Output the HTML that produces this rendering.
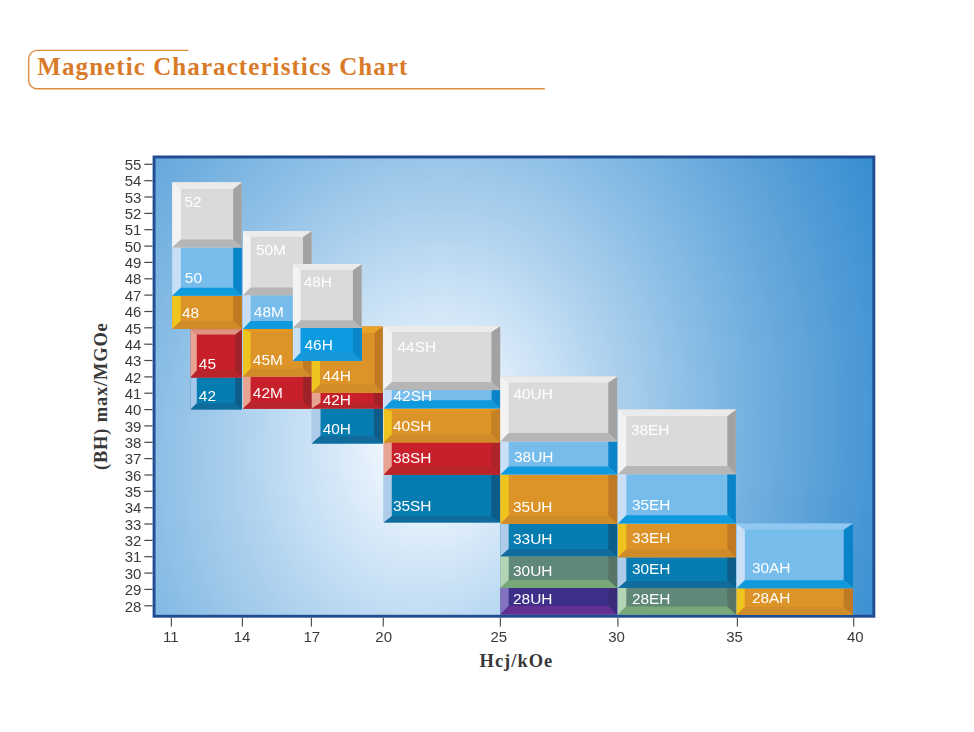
<!DOCTYPE html>
<html><head><meta charset="utf-8"><title>Magnetic Characteristics Chart</title>
<style>
html,body{margin:0;padding:0;background:#fff;}
body{width:974px;height:732px;overflow:hidden;position:relative;font-family:"Liberation Sans",sans-serif;}
svg{position:absolute;left:0;top:0;}
.t{font-family:"Liberation Serif",serif;font-weight:bold;}
</style></head><body>
<svg width="974" height="732" viewBox="0 0 974 732">
<defs>
<radialGradient id="bg" gradientUnits="userSpaceOnUse" cx="409.6" cy="455.6" r="531.5" fx="432.9" fy="433.6" gradientTransform="rotate(11.7 409.6 455.6) translate(0 455.6) scale(1 1.22) translate(0 -455.6)">
<stop offset="0.000" stop-color="#f8fcff"/>
<stop offset="0.091" stop-color="#edf6fe"/>
<stop offset="0.182" stop-color="#d6e8f8"/>
<stop offset="0.273" stop-color="#c0dcf3"/>
<stop offset="0.364" stop-color="#aacfed"/>
<stop offset="0.455" stop-color="#96c4e8"/>
<stop offset="0.545" stop-color="#83b9e3"/>
<stop offset="0.636" stop-color="#70aedf"/>
<stop offset="0.727" stop-color="#5fa4da"/>
<stop offset="0.818" stop-color="#4e9ad6"/>
<stop offset="0.909" stop-color="#3e91d2"/>
<stop offset="1.000" stop-color="#2f89cf"/>
</radialGradient>
</defs>
<!-- title -->
<path d="M188.4,50.4 H37 A8.5,8.5 0 0 0 28.6,58.9 V80.2 A8.5,8.5 0 0 0 37,88.7 H544.8" fill="none" stroke="#dd8c40" stroke-width="1.4"/>
<text class="t" x="37.3" y="74.6" font-size="25" letter-spacing="1.08" fill="#d87a28">Magnetic Characteristics Chart</text>
<!-- frame -->
<rect x="154.05" y="156.95" width="719.8" height="459.3" fill="url(#bg)" stroke="#204c92" stroke-width="2.9"/>
<g shape-rendering="geometricPrecision">
<rect x="190.7" y="377.5" width="51.1" height="31.9" fill="#067cb0"/><polygon points="190.7,377.5 196.8,377.5 196.8,403.2 190.7,409.4" fill="#a4c7ea"/><polygon points="241.8,377.5 235.2,377.5 235.2,403.2 241.8,409.4" fill="#0e5c88"/><polygon points="190.7,409.4 196.8,403.2 235.2,403.2 241.8,409.4" fill="#0f6c9c"/><rect x="190.7" y="329.3" width="51.1" height="48.2" fill="#c8202a"/><polygon points="190.7,329.3 196.8,334.4 196.8,370.3 190.7,377.5" fill="#e8a492"/><polygon points="241.8,329.3 235.2,334.4 235.2,370.3 241.8,377.5" fill="#a02229"/><polygon points="190.7,377.5 196.8,370.3 235.2,370.3 241.8,377.5" fill="#b82429"/><polygon points="190.7,329.3 196.8,334.4 235.2,334.4 241.8,329.3" fill="#df9482"/><rect x="172.2" y="295.8" width="69.6" height="33.1" fill="#dc9428"/><polygon points="172.2,295.8 180.8,295.8 180.8,321.0 172.2,328.9" fill="#f0c41e"/><polygon points="241.8,295.8 233.2,295.8 233.2,321.0 241.8,328.9" fill="#c07a24"/><polygon points="172.2,328.9 180.8,321.0 233.2,321.0 241.8,328.9" fill="#d08c28"/><rect x="172.2" y="246.5" width="69.6" height="49.2" fill="#76bdec"/><polygon points="172.2,246.5 180.8,246.5 180.8,287.7 172.2,295.7" fill="#c8dff6"/><polygon points="241.8,246.5 233.2,246.5 233.2,287.7 241.8,295.7" fill="#0a84c8"/><polygon points="172.2,295.7 180.8,287.7 233.2,287.7 241.8,295.7" fill="#0e9adc"/><rect x="172.2" y="182.3" width="69.6" height="65.2" fill="#dadada"/><polygon points="172.2,182.3 180.8,189.1 180.8,239.6 172.2,247.5" fill="#f3f3f3"/><polygon points="241.8,182.3 233.2,189.1 233.2,239.6 241.8,247.5" fill="#a2a2a2"/><polygon points="172.2,247.5 180.8,239.6 233.2,239.6 241.8,247.5" fill="#b6b6b6"/><polygon points="172.2,182.3 180.8,189.1 233.2,189.1 241.8,182.3" fill="#ebebeb"/><rect x="243.0" y="376.5" width="68.6" height="32.2" fill="#c8202a"/><polygon points="243.0,376.5 250.6,376.5 250.6,401.6 243.0,408.7" fill="#e8a492"/><polygon points="311.6,376.5 303.0,376.5 303.0,401.6 311.6,408.7" fill="#a02229"/><polygon points="243.0,408.7 250.6,401.6 303.0,401.6 311.6,408.7" fill="#b82429"/><rect x="243.0" y="328.9" width="68.6" height="47.6" fill="#dc9428"/><polygon points="243.0,328.9 250.6,331.8 250.6,368.7 243.0,376.5" fill="#f0c41e"/><polygon points="311.6,328.9 303.0,331.8 303.0,368.7 311.6,376.5" fill="#c07a24"/><polygon points="243.0,376.5 250.6,368.7 303.0,368.7 311.6,376.5" fill="#d08c28"/><polygon points="243.0,328.9 250.6,331.8 303.0,331.8 311.6,328.9" fill="#ec961e"/><rect x="243.0" y="294.0" width="68.6" height="34.9" fill="#76bdec"/><polygon points="243.0,294.0 250.6,294.0 250.6,321.0 243.0,328.9" fill="#c8dff6"/><polygon points="311.6,294.0 303.0,294.0 303.0,321.0 311.6,328.9" fill="#0a84c8"/><polygon points="243.0,328.9 250.6,321.0 303.0,321.0 311.6,328.9" fill="#0e9adc"/><rect x="243.0" y="231.0" width="68.6" height="64.3" fill="#dadada"/><polygon points="243.0,231.0 250.6,236.7 250.6,287.5 243.0,295.3" fill="#f3f3f3"/><polygon points="311.6,231.0 303.0,236.7 303.0,287.5 311.6,295.3" fill="#a2a2a2"/><polygon points="243.0,295.3 250.6,287.5 303.0,287.5 311.6,295.3" fill="#b6b6b6"/><polygon points="243.0,231.0 250.6,236.7 303.0,236.7 311.6,231.0" fill="#ebebeb"/><rect x="311.9" y="408.6" width="70.9" height="34.9" fill="#067cb0"/><polygon points="311.9,408.6 320.5,408.6 320.5,435.7 311.9,443.5" fill="#aecbe9"/><polygon points="382.8,408.6 373.9,408.6 373.9,435.7 382.8,443.5" fill="#0e5c88"/><polygon points="311.9,443.5 320.5,435.7 373.9,435.7 382.8,443.5" fill="#0f6c9c"/><rect x="311.9" y="392.6" width="70.9" height="16.0" fill="#c8202a"/><polygon points="311.9,392.6 320.5,392.6 320.5,402.9 311.9,408.6" fill="#e8a492"/><polygon points="382.8,392.6 373.9,392.6 373.9,402.9 382.8,408.6" fill="#a02229"/><polygon points="311.9,408.6 320.5,402.9 373.9,402.9 382.8,408.6" fill="#b82429"/><rect x="311.8" y="326.4" width="70.9" height="66.3" fill="#dc9428"/><polygon points="311.8,326.4 320.0,332.8 320.0,384.5 311.8,392.7" fill="#f0c41e"/><polygon points="382.7,326.4 374.5,332.8 374.5,384.5 382.7,392.7" fill="#c07a24"/><polygon points="311.8,392.7 320.0,384.5 374.5,384.5 382.7,392.7" fill="#d08c28"/><polygon points="311.8,326.4 320.0,332.8 374.5,332.8 382.7,326.4" fill="#e8a226"/><rect x="292.9" y="327.0" width="68.8" height="33.9" fill="#0c9ae0"/><polygon points="292.9,327.0 300.5,327.0 300.5,352.7 292.9,360.9" fill="#c8dff6"/><polygon points="361.7,327.0 352.9,327.0 352.9,352.7 361.7,360.9" fill="#0a86ca"/><polygon points="292.9,360.9 300.5,352.7 352.9,352.7 361.7,360.9" fill="#1898dc"/><rect x="292.9" y="264.0" width="68.8" height="64.0" fill="#dadada"/><polygon points="292.9,264.0 300.5,270.1 300.5,320.2 292.9,328.0" fill="#f3f3f3"/><polygon points="361.7,264.0 352.9,270.1 352.9,320.2 361.7,328.0" fill="#a2a2a2"/><polygon points="292.9,328.0 300.5,320.2 352.9,320.2 361.7,328.0" fill="#b6b6b6"/><polygon points="292.9,264.0 300.5,270.1 352.9,270.1 361.7,264.0" fill="#ebebeb"/><rect x="383.8" y="474.7" width="116.4" height="47.7" fill="#067cb0"/><polygon points="383.8,474.7 391.8,474.7 391.8,516.2 383.8,522.4" fill="#aecbe9"/><polygon points="500.2,474.7 491.3,474.7 491.3,516.2 500.2,522.4" fill="#0e5c88"/><polygon points="383.8,522.4 391.8,516.2 491.3,516.2 500.2,522.4" fill="#0f6c9c"/><rect x="383.8" y="441.9" width="116.4" height="32.8" fill="#c8202a"/><polygon points="383.8,441.9 391.8,441.9 391.8,466.5 383.8,474.7" fill="#e8a492"/><polygon points="500.2,441.9 491.3,441.9 491.3,466.5 500.2,474.7" fill="#ae2429"/><polygon points="383.8,474.7 391.8,466.5 491.3,466.5 500.2,474.7" fill="#b82429"/><rect x="383.8" y="408.6" width="116.4" height="33.8" fill="#dc9428"/><polygon points="383.8,408.6 391.8,411.0 391.8,434.5 383.8,442.4" fill="#f0c41e"/><polygon points="500.2,408.6 491.3,411.0 491.3,434.5 500.2,442.4" fill="#c68026"/><polygon points="383.8,442.4 391.8,434.5 491.3,434.5 500.2,442.4" fill="#d08c28"/><polygon points="383.8,408.6 391.8,411.0 491.3,411.0 500.2,408.6" fill="#ec961e"/><rect x="383.8" y="389.5" width="116.4" height="19.1" fill="#76bdec"/><polygon points="383.8,389.5 391.8,389.5 391.8,400.2 383.8,408.6" fill="#c8dff6"/><polygon points="500.2,389.5 491.6,389.5 491.6,400.2 500.2,408.6" fill="#0a84c8"/><polygon points="383.8,408.6 391.8,400.2 491.6,400.2 500.2,408.6" fill="#0e9adc"/><rect x="383.3" y="326.0" width="116.9" height="64.1" fill="#dadada"/><polygon points="383.3,326.0 391.9,332.0 391.9,382.0 383.3,390.1" fill="#f3f3f3"/><polygon points="500.2,326.0 491.4,332.0 491.4,382.0 500.2,390.1" fill="#a2a2a2"/><polygon points="383.3,390.1 391.9,382.0 491.4,382.0 500.2,390.1" fill="#b6b6b6"/><polygon points="383.3,326.0 391.9,332.0 491.4,332.0 500.2,326.0" fill="#ebebeb"/><rect x="500.5" y="588.0" width="116.7" height="26.6" fill="#3c3088"/><polygon points="500.5,588.0 508.7,588.0 508.7,606.0 500.5,614.6" fill="#8272c0"/><polygon points="617.2,588.0 608.3,588.0 608.3,606.0 617.2,614.6" fill="#3a2c78"/><polygon points="500.5,614.6 508.7,606.0 608.3,606.0 617.2,614.6" fill="#623092"/><rect x="500.5" y="556.2" width="116.7" height="31.8" fill="#608878"/><polygon points="500.5,556.2 508.7,556.2 508.7,579.9 500.5,588.0" fill="#b4d4b6"/><polygon points="617.2,556.2 608.3,556.2 608.3,579.9 617.2,588.0" fill="#587466"/><polygon points="500.5,588.0 508.7,579.9 608.3,579.9 617.2,588.0" fill="#78a87a"/><rect x="500.5" y="523.8" width="116.7" height="32.4" fill="#067cb0"/><polygon points="500.5,523.8 508.7,523.8 508.7,549.0 500.5,556.2" fill="#aecbe9"/><polygon points="617.2,523.8 608.3,523.8 608.3,549.0 617.2,556.2" fill="#0e5c88"/><polygon points="500.5,556.2 508.7,549.0 608.3,549.0 617.2,556.2" fill="#0f6c9c"/><rect x="500.5" y="474.5" width="116.7" height="49.3" fill="#dc9428"/><polygon points="500.5,474.5 508.7,474.5 508.7,515.6 500.5,523.8" fill="#f0c41e"/><polygon points="617.2,474.5 608.3,474.5 608.3,515.6 617.2,523.8" fill="#c07a24"/><polygon points="500.5,523.8 508.7,515.6 608.3,515.6 617.2,523.8" fill="#d08c28"/><rect x="500.5" y="440.5" width="116.7" height="34.1" fill="#76bdec"/><polygon points="500.5,440.5 508.7,440.5 508.7,466.4 500.5,474.6" fill="#c8dff6"/><polygon points="617.2,440.5 608.3,440.5 608.3,466.4 617.2,474.6" fill="#0a84c8"/><polygon points="500.5,474.6 508.7,466.4 608.3,466.4 617.2,474.6" fill="#0e9adc"/><rect x="500.5" y="376.4" width="116.7" height="65.1" fill="#dadada"/><polygon points="500.5,376.4 508.7,382.6 508.7,432.9 500.5,441.5" fill="#f3f3f3"/><polygon points="617.2,376.4 608.3,382.6 608.3,432.9 617.2,441.5" fill="#a2a2a2"/><polygon points="500.5,441.5 508.7,432.9 608.3,432.9 617.2,441.5" fill="#b6b6b6"/><polygon points="500.5,376.4 508.7,382.6 608.3,382.6 617.2,376.4" fill="#ebebeb"/><rect x="618.0" y="588.0" width="117.9" height="26.6" fill="#608878"/><polygon points="618.0,588.0 626.3,588.0 626.3,606.5 618.0,614.6" fill="#b4d4b6"/><polygon points="735.9,588.0 727.3,588.0 727.3,606.5 735.9,614.6" fill="#587466"/><polygon points="618.0,614.6 626.3,606.5 727.3,606.5 735.9,614.6" fill="#78a87a"/><rect x="618.0" y="557.3" width="117.9" height="30.7" fill="#067cb0"/><polygon points="618.0,557.3 626.3,557.3 626.3,580.9 618.0,588.0" fill="#aecbe9"/><polygon points="735.9,557.3 727.3,557.3 727.3,580.9 735.9,588.0" fill="#0e5c88"/><polygon points="618.0,588.0 626.3,580.9 727.3,580.9 735.9,588.0" fill="#0f6c9c"/><rect x="618.0" y="523.8" width="117.9" height="33.5" fill="#dc9428"/><polygon points="618.0,523.8 626.3,523.8 626.3,549.0 618.0,557.3" fill="#f0c41e"/><polygon points="735.9,523.8 727.3,523.8 727.3,549.0 735.9,557.3" fill="#c07a24"/><polygon points="618.0,557.3 626.3,549.0 727.3,549.0 735.9,557.3" fill="#d08c28"/><rect x="618.0" y="473.2" width="117.9" height="50.3" fill="#76bdec"/><polygon points="618.0,473.2 626.3,473.2 626.3,515.3 618.0,523.5" fill="#c8dff6"/><polygon points="735.9,473.2 727.3,473.2 727.3,515.3 735.9,523.5" fill="#0a84c8"/><polygon points="618.0,523.5 626.3,515.3 727.3,515.3 735.9,523.5" fill="#0e9adc"/><rect x="618.1" y="409.5" width="117.8" height="64.7" fill="#dadada"/><polygon points="618.1,409.5 626.3,416.1 626.3,466.0 618.1,474.2" fill="#f3f3f3"/><polygon points="735.9,409.5 727.3,416.1 727.3,466.0 735.9,474.2" fill="#a2a2a2"/><polygon points="618.1,474.2 626.3,466.0 727.3,466.0 735.9,474.2" fill="#b6b6b6"/><polygon points="618.1,409.5 626.3,416.1 727.3,416.1 735.9,409.5" fill="#ebebeb"/><rect x="736.6" y="588.2" width="116.4" height="26.6" fill="#dc9428"/><polygon points="736.6,588.2 744.8,588.2 744.8,607.0 736.6,614.8" fill="#f0c41e"/><polygon points="853.0,588.2 843.7,588.2 843.7,607.0 853.0,614.8" fill="#c07a24"/><polygon points="736.6,614.8 744.8,607.0 843.7,607.0 853.0,614.8" fill="#d08c28"/><rect x="736.6" y="523.5" width="116.4" height="64.7" fill="#76bdec"/><polygon points="736.6,523.5 744.8,529.6 744.8,580.3 736.6,588.2" fill="#c8dff6"/><polygon points="853.0,523.5 843.7,529.6 843.7,580.3 853.0,588.2" fill="#0a84c8"/><polygon points="736.6,588.2 744.8,580.3 843.7,580.3 853.0,588.2" fill="#0e9adc"/><polygon points="736.6,523.5 744.8,529.6 843.7,529.6 853.0,523.5" fill="#90c8f2"/>
</g>
<g font-family="Liberation Sans, sans-serif" font-size="15" fill="#fff" style="opacity:0.995">
<text transform="translate(198.8 400.7) scale(1.03 1.02)">42</text><text transform="translate(198.8 368.7) scale(1.03 1.02)">45</text><text transform="translate(181.9 317.6) scale(1.03 1.02)">48</text><text transform="translate(184.8 282.9) scale(1.03 1.02)">50</text><text transform="translate(184.4 207.0) scale(1.03 1.02)">52</text><text transform="translate(252.8 397.7) scale(1.03 1.02)">42M</text><text transform="translate(252.8 364.6) scale(1.03 1.02)">45M</text><text transform="translate(253.8 317.0) scale(1.03 1.02)">48M</text><text transform="translate(255.9 255.2) scale(1.03 1.02)">50M</text><text transform="translate(322.7 433.7) scale(1.03 1.02)">40H</text><text transform="translate(322.7 404.5) scale(1.03 1.02)">42H</text><text transform="translate(322.6 381.4) scale(1.03 1.02)">44H</text><text transform="translate(304.5 350.0) scale(1.03 1.02)">46H</text><text transform="translate(303.7 287.0) scale(1.03 1.02)">48H</text><text transform="translate(392.9 510.7) scale(1.03 1.02)">35SH</text><text transform="translate(392.9 463.4) scale(1.03 1.02)">38SH</text><text transform="translate(392.9 430.6) scale(1.03 1.02)">40SH</text><text transform="translate(393.5 401.4) scale(1.03 1.02)">42SH</text><text transform="translate(397.5 351.6) scale(1.03 1.02)">44SH</text><text transform="translate(513.0 603.5) scale(1.03 1.02)">28UH</text><text transform="translate(513.0 576.4) scale(1.03 1.02)">30UH</text><text transform="translate(513.0 544.3) scale(1.03 1.02)">33UH</text><text transform="translate(513.0 511.5) scale(1.03 1.02)">35UH</text><text transform="translate(514.0 462.3) scale(1.03 1.02)">38UH</text><text transform="translate(513.4 399.4) scale(1.03 1.02)">40UH</text><text transform="translate(631.9 603.5) scale(1.03 1.02)">28EH</text><text transform="translate(631.9 574.3) scale(1.03 1.02)">30EH</text><text transform="translate(631.9 543.3) scale(1.03 1.02)">33EH</text><text transform="translate(631.9 509.7) scale(1.03 1.02)">35EH</text><text transform="translate(630.9 434.6) scale(1.03 1.02)">38EH</text><text transform="translate(751.9 603.3) scale(1.03 1.02)">28AH</text><text transform="translate(751.9 573.2) scale(1.03 1.02)">30AH</text>
</g>
<g stroke="#484848" stroke-width="1.2"><line x1="144.3" x2="152.5" y1="164.3" y2="164.3"/><line x1="144.3" x2="152.5" y1="180.7" y2="180.7"/><line x1="144.3" x2="152.5" y1="197.0" y2="197.0"/><line x1="144.3" x2="152.5" y1="213.4" y2="213.4"/><line x1="144.3" x2="152.5" y1="229.7" y2="229.7"/><line x1="144.3" x2="152.5" y1="246.1" y2="246.1"/><line x1="144.3" x2="152.5" y1="262.4" y2="262.4"/><line x1="144.3" x2="152.5" y1="278.8" y2="278.8"/><line x1="144.3" x2="152.5" y1="295.1" y2="295.1"/><line x1="144.3" x2="152.5" y1="311.5" y2="311.5"/><line x1="144.3" x2="152.5" y1="327.8" y2="327.8"/><line x1="144.3" x2="152.5" y1="344.2" y2="344.2"/><line x1="144.3" x2="152.5" y1="360.5" y2="360.5"/><line x1="144.3" x2="152.5" y1="376.9" y2="376.9"/><line x1="144.3" x2="152.5" y1="393.2" y2="393.2"/><line x1="144.3" x2="152.5" y1="409.6" y2="409.6"/><line x1="144.3" x2="152.5" y1="425.9" y2="425.9"/><line x1="144.3" x2="152.5" y1="442.3" y2="442.3"/><line x1="144.3" x2="152.5" y1="458.6" y2="458.6"/><line x1="144.3" x2="152.5" y1="475.0" y2="475.0"/><line x1="144.3" x2="152.5" y1="491.3" y2="491.3"/><line x1="144.3" x2="152.5" y1="507.7" y2="507.7"/><line x1="144.3" x2="152.5" y1="524.0" y2="524.0"/><line x1="144.3" x2="152.5" y1="540.4" y2="540.4"/><line x1="144.3" x2="152.5" y1="556.7" y2="556.7"/><line x1="144.3" x2="152.5" y1="573.1" y2="573.1"/><line x1="144.3" x2="152.5" y1="589.4" y2="589.4"/><line x1="144.3" x2="152.5" y1="605.8" y2="605.8"/></g>
<g stroke="#555" stroke-width="1.2"><line x1="171.4" x2="171.4" y1="618" y2="626.6"/><line x1="242.4" x2="242.4" y1="618" y2="626.6"/><line x1="311.4" x2="311.4" y1="618" y2="626.6"/><line x1="383.3" x2="383.3" y1="618" y2="626.6"/><line x1="500.4" x2="500.4" y1="618" y2="626.6"/><line x1="617.9" x2="617.9" y1="618" y2="626.6"/><line x1="737.4" x2="737.4" y1="618" y2="626.6"/><line x1="853.7" x2="853.7" y1="618" y2="626.6"/></g>
<g font-family="Liberation Sans, sans-serif" font-size="15" fill="#3a3a3a" style="opacity:0.995">
<text x="141.4" y="170.0" text-anchor="end">55</text><text x="141.4" y="186.3" text-anchor="end">54</text><text x="141.4" y="202.7" text-anchor="end">53</text><text x="141.4" y="219.1" text-anchor="end">52</text><text x="141.4" y="235.4" text-anchor="end">51</text><text x="141.4" y="251.8" text-anchor="end">50</text><text x="141.4" y="268.1" text-anchor="end">49</text><text x="141.4" y="284.4" text-anchor="end">48</text><text x="141.4" y="300.8" text-anchor="end">47</text><text x="141.4" y="317.2" text-anchor="end">46</text><text x="141.4" y="333.5" text-anchor="end">45</text><text x="141.4" y="349.9" text-anchor="end">44</text><text x="141.4" y="366.2" text-anchor="end">43</text><text x="141.4" y="382.6" text-anchor="end">42</text><text x="141.4" y="398.9" text-anchor="end">41</text><text x="141.4" y="415.3" text-anchor="end">40</text><text x="141.4" y="431.6" text-anchor="end">39</text><text x="141.4" y="448.0" text-anchor="end">38</text><text x="141.4" y="464.3" text-anchor="end">37</text><text x="141.4" y="480.7" text-anchor="end">36</text><text x="141.4" y="497.0" text-anchor="end">35</text><text x="141.4" y="513.4" text-anchor="end">34</text><text x="141.4" y="529.7" text-anchor="end">33</text><text x="141.4" y="546.1" text-anchor="end">32</text><text x="141.4" y="562.4" text-anchor="end">31</text><text x="141.4" y="578.8" text-anchor="end">30</text><text x="141.4" y="595.1" text-anchor="end">29</text><text x="141.4" y="611.5" text-anchor="end">28</text>
<text x="170.9" y="642" text-anchor="middle">11</text><text x="242.0" y="642" text-anchor="middle">14</text><text x="311.8" y="642" text-anchor="middle">17</text><text x="383.7" y="642" text-anchor="middle">20</text><text x="498.8" y="642" text-anchor="middle">25</text><text x="616.6" y="642" text-anchor="middle">30</text><text x="734.6" y="642" text-anchor="middle">35</text><text x="855.3" y="642" text-anchor="middle">40</text>
</g>
<text class="t" x="479.5" y="666.6" font-size="18.5" letter-spacing="1" fill="#383838">Hcj/kOe</text>
<text class="t" transform="translate(106.9 470) rotate(-90)" font-size="18.5" letter-spacing="0.8" fill="#383838">(BH) max/MGOe</text>
</svg>
</body></html>
